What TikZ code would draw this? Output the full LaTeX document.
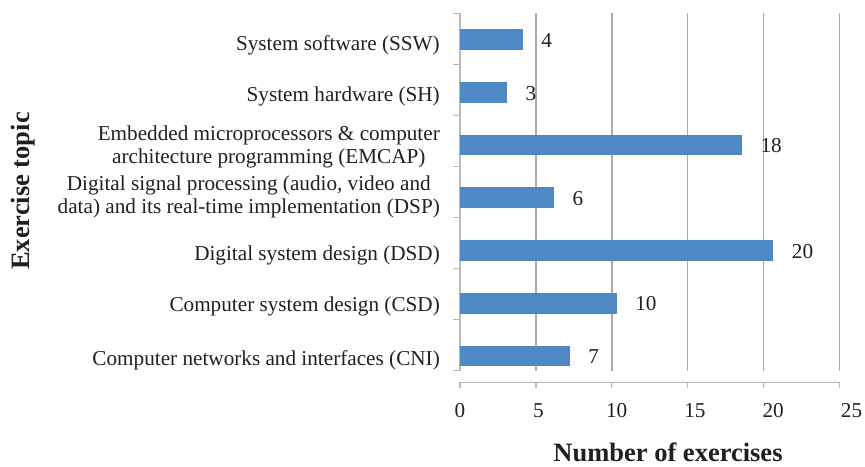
\documentclass[tikz,border=0pt]{standalone}
\usepackage{fontspec}
\setmainfont{Liberation Serif}
\definecolor{barblue}{RGB}{79,137,195}
\definecolor{gridgray}{RGB}{172,172,172}
\definecolor{axisgray}{RGB}{185,185,185}
\definecolor{ink}{RGB}{35,31,32}
\begin{document}
\begin{tikzpicture}[x=1pt,y=-1pt,
  txt/.style={inner sep=0pt, text=ink, font=\fontsize{21.2}{22.6}\selectfont},
  catlabel/.style={txt, anchor=base east, align=center},
  vallabel/.style={txt, anchor=base west},
  ticklabel/.style={txt, anchor=base},
  axistitle/.style={inner sep=0pt, text=ink, anchor=base, font=\bfseries\fontsize{26.5}{30}\selectfont},
  gridline/.style={draw=gridgray, line width=1.6pt},
  axisline/.style={draw=axisgray, line width=1.3pt},
  barfill/.style={fill=barblue, draw=none}]
\useasboundingbox (0,0) rectangle (865,466);

% vertical grid lines
\foreach \k in {1,...,5}
  \draw[gridline] ({460+75.86*\k},13.3) -- ({460+75.86*\k},370.7);

% category axis with its tick marks
\draw[axisline] (460,13.3) -- (460,370.7);
\foreach \k in {0,...,7}
  \draw[axisline] (453.3,{13.3+51.06*\k}) -- (460,{13.3+51.06*\k});

% value axis with its tick marks and labels
\draw[axisline] (460,382.3) -- (839.3,382.3);
\foreach \k in {0,...,5} {
  \draw[axisline] ({460+75.86*\k},382.3) -- ({460+75.86*\k},388.3);
  \pgfmathtruncatemacro\tv{5*\k}
  \node[ticklabel] (t\k) at ({460+78.3*\k},417.3) {\tv};
}

% bars and value labels
\foreach \v [count=\i from 0] in {4,3,18,6,20,10,7} {
  \pgfmathsetmacro\c{39.7+52.7*\i}
  \path[barfill] (460,{\c-10.35}) rectangle ({460+15.66*\v},{\c+10.35});
  \node[vallabel] (v\i) at ({460+15.66*\v+18.5},{\c+7.6}) {\v};
}

% category labels (two-line labels are placed by their last baseline)
\node[catlabel] (ssw)   at (440,50)    {System software (SSW)};
\node[catlabel] (sh)    at (440,101.7) {System hardware (SH)};
\node[catlabel] (emcap) at (440,163.3) {Embedded microprocessors \& computer\\architecture programming (EMCAP)};
\node[catlabel] (dsp)   at (440,213)   {Digital signal processing (audio, video and\\data) and its real-time implementation (DSP)};
\node[catlabel] (dsd)   at (440,260)   {Digital system design (DSD)};
\node[catlabel] (csd)   at (440,311.7) {Computer system design (CSD)};
\node[catlabel] (cni)   at (440,365)   {Computer networks and interfaces (CNI)};

% axis titles
\node[axistitle, rotate=90] (ytitle) at (29.5,191) {Exercise topic};
\node[axistitle] (xtitle) at (668,461) {Number of exercises};
\end{tikzpicture}
\end{document}
